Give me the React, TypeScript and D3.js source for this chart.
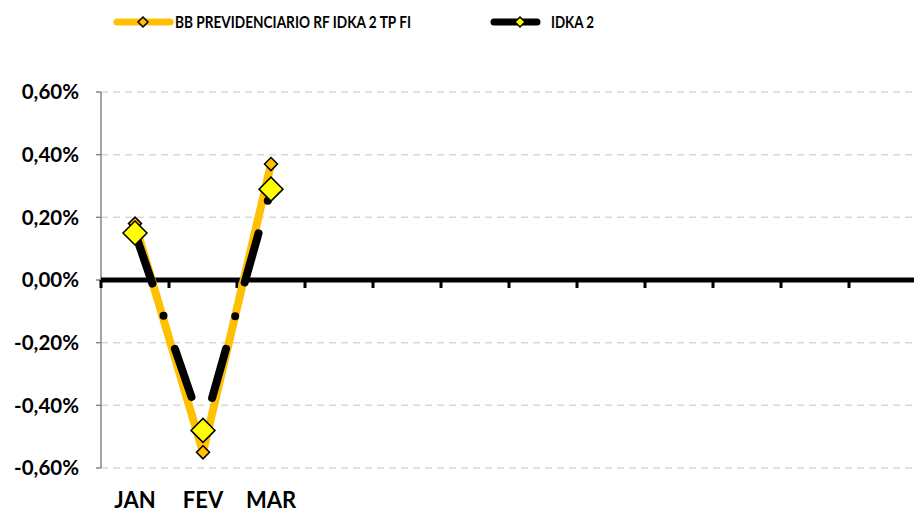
import React from "react";
import * as d3 from "d3";

const months = ["JAN", "FEV", "MAR", "ABR", "MAI", "JUN", "JUL", "AGO", "SET", "OUT", "NOV", "DEZ"];
const monthLabels = ["JAN", "FEV", "MAR", "", "", "", "", "", "", "", "", ""];
const fundValues = [0.18, -0.55, 0.37];
const idkaValues = [0.15, -0.48, 0.29];
const yTicks = [-0.6, -0.4, -0.2, 0, 0.2, 0.4, 0.6];

const fundName = "BB PREVIDENCIARIO RF IDKA 2 TP FI";
const idkaName = "IDKA 2";

const W = 914;
const H = 513;
const FONT = "Lato, 'Open Sans', sans-serif";

const x = d3.scaleBand().domain(months).range([101, 917]);
const y = d3.scaleLinear().domain([-0.6, 0.6]).range([468, 92]);

const cx = (i: number) => (x(months[i]) as number) + x.bandwidth() / 2;

const line = d3
  .line<number>()
  .x((d, i) => cx(i))
  .y((d) => y(d));

const diamond = (px: number, py: number, r: number) =>
  `M${px},${py - r}L${px + r},${py}L${px},${py + r}L${px - r},${py}Z`;

const fmt = (v: number) => v.toFixed(2).replace(".", ",") + "%";

export default function App() {
  return (
    <svg width={W} height={H} style={{ display: "block", position: "absolute", left: 0, top: 0 }}>
      <rect width={W} height={H} fill="#fff" />

      {/* legend */}
      <g>
        <line x1={117} x2={170} y1={22} y2={22} stroke="#FFC000" strokeWidth={7} strokeLinecap="round" />
        <path d={diamond(143, 22, 5)} fill="#FFC000" stroke="#000" strokeWidth={1.5} />
        <text
          x={175}
          y={28}
          fontFamily={FONT}
          fontWeight="bold"
          fontSize={17}
          fill="#000"
          textLength={236}
          lengthAdjust="spacingAndGlyphs"
        >
          {fundName}
        </text>
        <line x1={494} x2={537} y1={22} y2={22} stroke="#000" strokeWidth={7} strokeLinecap="round" />
        <path d={diamond(520, 22, 5)} fill="#FFFF00" stroke="#000" strokeWidth={1.5} />
        <text
          x={551}
          y={28}
          fontFamily={FONT}
          fontWeight="bold"
          fontSize={17}
          fill="#000"
          textLength={43}
          lengthAdjust="spacingAndGlyphs"
        >
          {idkaName}
        </text>
      </g>

      {/* grid + y axis */}
      {yTicks.map((t) => (
        <g key={t}>
          {t !== 0 && (
            <line x1={101} x2={W} y1={y(t)} y2={y(t)} stroke="#D9D9D9" strokeWidth={1.5} strokeDasharray="7 5" />
          )}
          <line x1={96} x2={101} y1={y(t)} y2={y(t)} stroke="#868686" strokeWidth={1.5} />
          <text
            x={79}
            y={y(t)}
            dy="0.35em"
            textAnchor="end"
            fontFamily={FONT}
            fontWeight="bold"
            fontSize={20.5}
            fill="#000"
          >
            {fmt(t)}
          </text>
        </g>
      ))}
      <line x1={101} x2={101} y1={y(0.6)} y2={y(-0.6)} stroke="#868686" strokeWidth={1.5} />

      {/* zero line with category ticks */}
      <line x1={101} x2={W} y1={y(0)} y2={y(0)} stroke="#000" strokeWidth={5} />
      {months.map((m) => (
        <line
          key={m}
          x1={x(m) as number}
          x2={x(m) as number}
          y1={y(0)}
          y2={y(0) + 8}
          stroke="#000"
          strokeWidth={3}
        />
      ))}

      {/* category labels */}
      {monthLabels.map((m, i) =>
        m ? (
          <text
            key={i}
            x={cx(i)}
            y={508}
            textAnchor="middle"
            fontFamily={FONT}
            fontWeight="bold"
            fontSize={22}
            fill="#000"
          >
            {m}
          </text>
        ) : null
      )}

      {/* fund series */}
      <path d={line(fundValues) as string} fill="none" stroke="#FFC000" strokeWidth={8} strokeLinejoin="round" />
      {fundValues.map((v, i) => (
        <path key={i} d={diamond(cx(i), y(v), 6.5)} fill="#FFC000" stroke="#000" strokeWidth={1.5} />
      ))}

      {/* IDKA series */}
      <path
        d={line(idkaValues) as string}
        fill="none"
        stroke="#000"
        strokeWidth={8}
        strokeLinecap="round"
        strokeLinejoin="round"
        strokeDasharray="51 34 0 35"
        strokeDashoffset={117.5}
      />
      {idkaValues.map((v, i) => (
        <path key={i} d={diamond(cx(i), y(v), 12)} fill="#FFFF00" stroke="#000" strokeWidth={1.5} />
      ))}
    </svg>
  );
}
